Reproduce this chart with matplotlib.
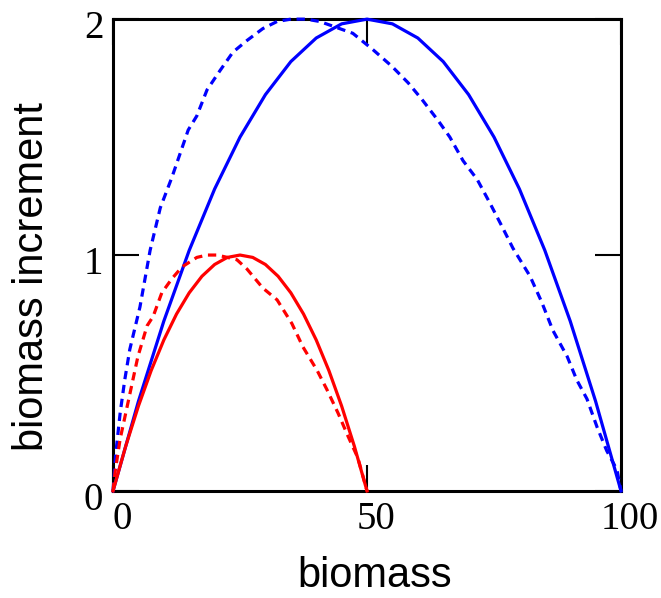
import matplotlib.pyplot as plt
import matplotlib.transforms as mtransforms

# biomass vs increment
blue_b = [0, 5, 10, 15, 20, 25, 30, 35, 40, 45, 50, 55, 60, 65, 70, 75, 80, 85, 90, 95, 100]
blue_inc = [0, 0.38, 0.72, 1.02, 1.28, 1.50, 1.68, 1.82, 1.92, 1.98, 2.0,
            1.98, 1.92, 1.82, 1.68, 1.50, 1.28, 1.02, 0.72, 0.38, 0]

red_b = [0, 2.5, 5, 7.5, 10, 12.5, 15, 17.5, 20, 22.5, 25, 27.5, 30, 32.5, 35,
         37.5, 40, 42.5, 45, 47.5, 50]
red_inc = [0, 0.19, 0.36, 0.51, 0.64, 0.75, 0.84, 0.91, 0.96, 0.99, 1.0, 0.99,
           0.96, 0.91, 0.84, 0.75, 0.64, 0.51, 0.36, 0.19, 0]

blue_dash_b = [0, 0.5, 1.4, 2.3, 3.3, 5.3, 7.3, 9.3, 11.6, 13.2, 14.8, 16.5, 18.5,
               21, 23.6, 26.4, 29.5, 32.3, 35, 38, 40.7, 43.3, 47.2, 51.2, 54.9,
               58.1, 60.8, 64, 66.3, 68.9, 71.7, 74.2, 76.6, 78.7, 82.1, 84.4,
               86.6, 89.4, 91.3, 93.3, 95.3, 97.2, 99.2, 100]
blue_dash_inc = [0, 0.15, 0.33, 0.47, 0.6, 0.78, 1.02, 1.2, 1.33, 1.43, 1.53, 1.59,
                 1.70, 1.78, 1.86, 1.91, 1.96, 1.99, 2.0, 2.0, 1.99, 1.97, 1.94,
                 1.87, 1.80, 1.73, 1.66, 1.57, 1.50, 1.40, 1.32, 1.22, 1.12, 1.03,
                 0.91, 0.80, 0.68, 0.57, 0.47, 0.39, 0.27, 0.17, 0.09, 0]

red_dash_b = [0, 0.4, 1.4, 2.8, 3.9, 4.9, 6.7, 7.9, 9.6, 11.6, 13.6, 16.5, 18.5,
              20.5, 22.5, 24.4, 26.4, 29.5, 32.3, 35.2, 37.4, 40.2, 42.1, 44.3,
              46.3, 48.2, 50]
red_dash_inc = [0, 0.08, 0.22, 0.36, 0.47, 0.57, 0.70, 0.74, 0.84, 0.90, 0.95, 0.99,
                1.0, 1.0, 0.99, 0.98, 0.94, 0.86, 0.81, 0.71, 0.61, 0.51, 0.43,
                0.33, 0.23, 0.14, 0]

x_ticks = [0, 50, 100]
y_ticks = [0, 1, 2]

fig = plt.figure(figsize=(6.61, 5.98), dpi=100)
ax = fig.add_axes([0.171, 0.179, 0.7685, 0.789])

lw = 2.3
dash = (2.6, 1.8)
ax.plot(blue_b, blue_inc, color='#0000ff', lw=lw, clip_on=False, zorder=5)
ax.plot(blue_dash_b, blue_dash_inc, color='#0000ff', lw=lw, dashes=dash, clip_on=False, zorder=5)
ax.plot(red_b, red_inc, color='#ff0000', lw=lw, clip_on=False, zorder=6)
ax.plot(red_dash_b, red_dash_inc, color='#ff0000', lw=lw, dashes=dash, clip_on=False, zorder=6)

ax.set_xlim(0, 100)
ax.set_ylim(0, 2)
ax.set_xticks(x_ticks)
ax.set_yticks(y_ticks)

for s in ax.spines.values():
    s.set_linewidth(2.2)
    s.set_zorder(4)

ax.tick_params(direction='in', length=19, width=1.5, top=True, right=True,
               labelsize=28, pad=7)
for lab in ax.get_xticklabels() + ax.get_yticklabels():
    lab.set_fontfamily('Liberation Serif')

# labels in the reference sit a little right / low of their ticks
dx = mtransforms.ScaledTranslation(9 / 100, 0, fig.dpi_scale_trans)
for lab in ax.get_xticklabels():
    lab.set_transform(lab.get_transform() + dx)
dy = mtransforms.ScaledTranslation(0, -5 / 100, fig.dpi_scale_trans)
for lab in ax.get_yticklabels():
    lab.set_transform(lab.get_transform() + dy)

ax.set_xlabel("biomass", fontsize=30, family='Liberation Sans')
ax.set_ylabel("biomass increment", fontsize=30, family='Liberation Sans')
ax.xaxis.set_label_coords(0.516, -0.138)
ax.yaxis.set_label_coords(-0.12, 0.455)

fig.savefig("out.png", dpi=100)
